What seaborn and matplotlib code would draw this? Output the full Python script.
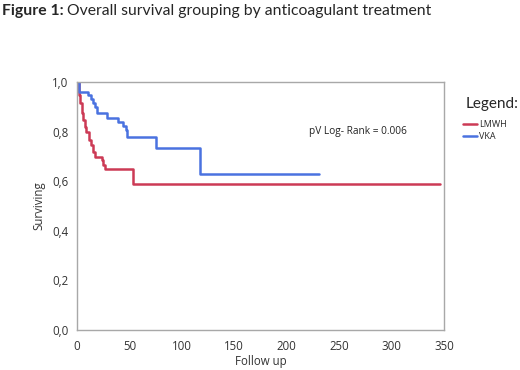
import matplotlib
matplotlib.use("Agg")
import matplotlib.pyplot as plt
from matplotlib.ticker import MultipleLocator, FuncFormatter
from matplotlib.lines import Line2D
import seaborn as sns
import pandas as pd

# Kaplan-Meier step points (time, survival)
lmwh_time = [0, 1.5, 3, 4.5, 6, 7.5, 9, 11, 13, 15.5, 17, 23.5, 25, 26.5, 53, 346]
lmwh_surv = [1.0, 0.947, 0.914, 0.873, 0.846, 0.82, 0.80, 0.766, 0.745, 0.718, 0.698, 0.685, 0.665, 0.648, 0.589, 0.589]

vka_time = [0, 2.2, 10.8, 13, 15.2, 17, 18.8, 28.9, 38.8, 43.6, 46.5, 47.5, 75.4, 117.7, 231]
vka_surv = [1.0, 0.96, 0.946, 0.931, 0.917, 0.90, 0.875, 0.853, 0.837, 0.822, 0.806, 0.778, 0.735, 0.631, 0.631]

groups = ["LMWH", "VKA"]
colors = {"LMWH": "#cc3a55", "VKA": "#4a72e0"}
p_text = "pV Log- Rank = 0.006"

df = pd.concat([
    pd.DataFrame({"time": lmwh_time, "surv": lmwh_surv, "group": "LMWH"}),
    pd.DataFrame({"time": vka_time, "surv": vka_surv, "group": "VKA"}),
])

sns.set_style("white")
plt.rcParams["font.family"] = ["Open Sans", "DejaVu Sans"]

fig = plt.figure(figsize=(5.2, 3.7), dpi=100)
ax = fig.add_axes([77 / 520, 1 - 330 / 370, (444 - 77) / 520, (330 - 82) / 370])

sns.lineplot(data=df, x="time", y="surv", hue="group", palette=colors,
             estimator=None, drawstyle="steps-post", linewidth=1.8,
             legend=False, ax=ax)

ax.set_xlim(0, 350)
ax.set_ylim(0, 1.0)
ax.xaxis.set_major_locator(MultipleLocator(50))
ax.xaxis.set_minor_locator(MultipleLocator(25))
ax.yaxis.set_major_locator(MultipleLocator(0.2))
ax.yaxis.set_minor_locator(MultipleLocator(0.1))
ax.yaxis.set_major_formatter(FuncFormatter(lambda v, p: f"{v:.1f}".replace(".", ",")))

grey = "#a8a8a8"
for s in ax.spines.values():
    s.set_color(grey)
    s.set_linewidth(1.0)
ax.tick_params(which="both", direction="out", color=grey, length=4, width=1,
               labelsize=8.3, labelcolor="#333333", pad=2)
ax.tick_params(axis="x", which="major", pad=3)

ax.set_xlabel("Follow up", fontsize=8.3, color="#333333", labelpad=2)
ax.set_ylabel("Surviving", fontsize=8.3, color="#333333", labelpad=5)

ax.text(221, 0.80, p_text, fontsize=7.3, color="#222222", va="center", ha="left")

# title: bold prefix + regular text
t1 = fig.text(0.004, 1 - 15 / 370, "Figure 1:", fontsize=11.3, fontweight="bold",
              family=["Lato", "DejaVu Sans"], va="baseline")
fig.canvas.draw()
bb = t1.get_window_extent()
fig.text(bb.x1 / 520 + 0.007, 1 - 15 / 370, "Overall survival grouping by anticoagulant treatment",
         fontsize=11.3, family=["Lato", "DejaVu Sans"], va="baseline")

fig.text(466 / 520, 1 - 104 / 370, "Legend:", fontsize=11,
         family=["Lato", "DejaVu Sans"], va="center", ha="left")
handles = [Line2D([0], [0], color=colors[g], lw=1.8) for g in groups]
fig.legend(handles, groups, loc="upper left", bbox_to_anchor=(463 / 520, 1 - 120 / 370),
           frameon=False, fontsize=6.5, handlelength=1.6, handletextpad=0.15,
           labelspacing=0.35, borderpad=0, borderaxespad=0)

fig.savefig("out.png", dpi=100)
